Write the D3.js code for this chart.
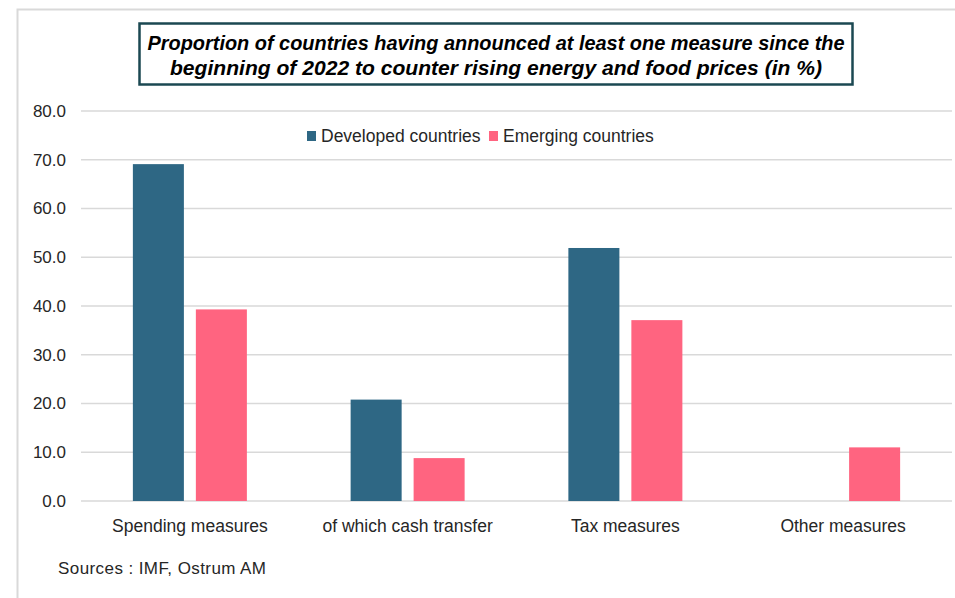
<!DOCTYPE html>
<html>
<head>
<meta charset="utf-8">
<script src="https://cdn.jsdelivr.net/npm/d3@7"></script>
<style>
  body { margin: 0; background: #fff; }
  text { font-family: "Liberation Sans", Arial, sans-serif; }
</style>
</head>
<body>
<div id="chart"></div>
<script>
// data
var categories = ["Spending measures", "of which cash transfer", "Tax measures", "Other measures"];
var developed = [69.1, 20.8, 51.9, 0];
var emerging = [39.3, 8.8, 37.1, 11.0];
var seriesNames = ["Developed countries", "Emerging countries"];
var yTicks = [0, 10, 20, 30, 40, 50, 60, 70, 80];

var colors = ["#2e6784", "#ff6480"];

var W = 955, H = 598;
var margin = {top: 111, right: 3, bottom: 97, left: 81},
    width = W - margin.left - margin.right,
    height = H - margin.top - margin.bottom;

var svg = d3.select("#chart")
  .append("svg")
    .attr("width", W)
    .attr("height", H);

// outer frame (light grey, only left and top visible)
svg.append("path")
  .attr("d", "M17.5," + H + "V9.5H" + W)
  .attr("fill", "none")
  .attr("stroke", "#d9d9d9")
  .attr("stroke-width", 2);

var g = svg.append("g")
  .attr("transform", "translate(" + margin.left + "," + margin.top + ")");

var y = d3.scaleLinear()
  .domain([0, 80])
  .range([height, 0]);

var x = d3.scaleBand()
  .domain(categories)
  .range([0, width]);

var x1 = d3.scaleBand()
  .domain([0, 1])
  .range([x.bandwidth() / 2 - 57, x.bandwidth() / 2 + 57])
  .paddingInner(0.19);

// gridlines
g.append("g")
  .selectAll("line")
  .data(yTicks)
  .enter()
  .append("line")
    .attr("x1", 0)
    .attr("x2", width)
    .attr("y1", function(d) { return y(d); })
    .attr("y2", function(d) { return y(d); })
    .attr("stroke", "#d9d9d9")
    .attr("stroke-width", 1.6);

// y axis labels
var yAxis = g.append("g")
  .call(d3.axisLeft(y).tickValues(yTicks).tickFormat(d3.format(".1f")).tickSize(0).tickPadding(15));
yAxis.select(".domain").remove();
yAxis.selectAll("text")
  .attr("font-size", 17)
  .attr("fill", "#262626")
  .style("font-family", "Liberation Sans, Arial, sans-serif");

// x axis labels
var xAxis = g.append("g")
  .attr("transform", "translate(0," + height + ")")
  .call(d3.axisBottom(x).tickSize(0).tickPadding(19));
xAxis.select(".domain").remove();
xAxis.selectAll("text")
  .attr("font-size", 17.5)
  .attr("fill", "#262626")
  .style("font-family", "Liberation Sans, Arial, sans-serif");

// bars
var series = [developed, emerging];
series.forEach(function(vals, s) {
  g.append("g")
    .selectAll("rect")
    .data(vals)
    .enter()
    .append("rect")
      .attr("x", function(d, i) { return x(categories[i]) + x1(s); })
      .attr("y", function(d) { return y(d); })
      .attr("width", x1.bandwidth())
      .attr("height", function(d) { return height - y(d); })
      .attr("fill", colors[s]);
});

// legend
var legend = svg.append("g");
var legendX = [307, 489];
seriesNames.forEach(function(name, i) {
  legend.append("rect")
    .attr("x", legendX[i])
    .attr("y", 131)
    .attr("width", 9)
    .attr("height", 10)
    .attr("fill", colors[i]);
  legend.append("text")
    .attr("x", legendX[i] + 14)
    .attr("y", 142)
    .attr("font-size", 17.5)
    .attr("fill", "#262626")
    .text(name);
});

// title box
svg.append("rect")
  .attr("x", 139.5)
  .attr("y", 23.5)
  .attr("width", 713)
  .attr("height", 61)
  .attr("fill", "#fff")
  .attr("stroke", "#1b4852")
  .attr("stroke-width", 2.5);

var titleLines = [
  "Proportion of countries having announced at least one measure since the",
  "beginning of 2022 to counter rising energy and food prices (in %)"
];
var titleLen = [697, 652];
titleLines.forEach(function(t, i) {
  svg.append("text")
    .attr("x", 496)
    .attr("y", 50 + i * 25)
    .attr("text-anchor", "middle")
    .attr("font-size", 19.5)
    .attr("font-weight", "bold")
    .attr("font-style", "italic")
    .attr("fill", "#000")
    .attr("textLength", titleLen[i])
    .attr("lengthAdjust", "spacingAndGlyphs")
    .style("font-family", "Liberation Sans Narrow, Liberation Sans, Arial, sans-serif")
    .text(t);
});

// source
svg.append("text")
  .attr("x", 58)
  .attr("y", 574)
  .attr("font-size", 17)
  .attr("fill", "#262626")
  .attr("textLength", 208)
  .attr("lengthAdjust", "spacing")
  .text("Sources : IMF, Ostrum AM");
</script>
</body>
</html>
